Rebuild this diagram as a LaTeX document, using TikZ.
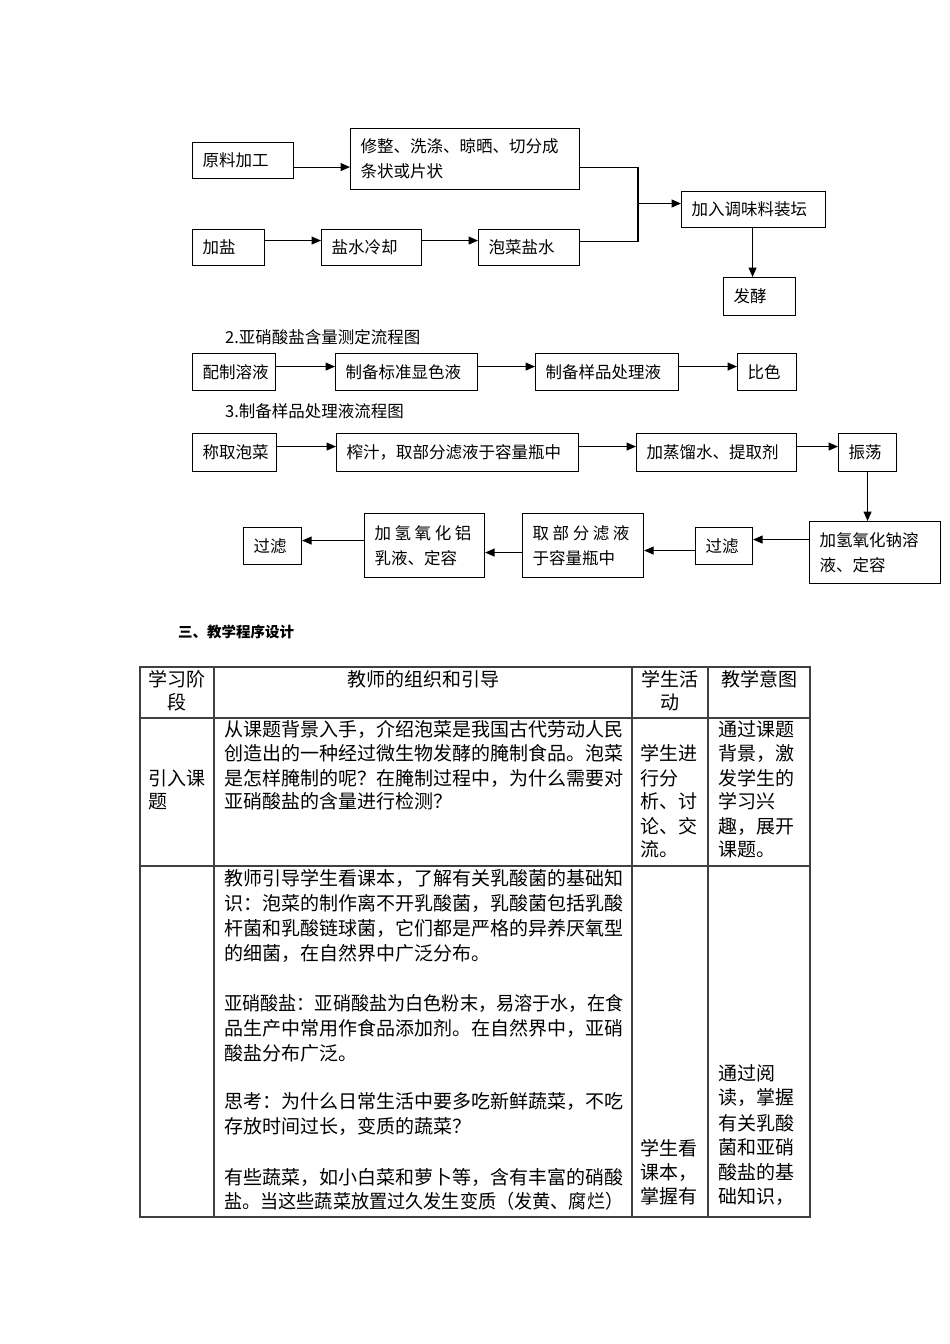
\documentclass[tikz,border=0pt]{standalone}
\usepackage{fontspec}
\setmainfont{Noto Sans CJK SC}
\usetikzlibrary{arrows.meta}
\newcommand\fcs{\fontsize{16.5}{25}\selectfont}
\newcommand\ftab{\fontsize{19}{25}\selectfont}
\newcounter{tlc}
\newcommand\tln[3]{\stepcounter{tlc}\edef\tlname{tl\arabic{tlc}}\node[tl] (\tlname) at (#1,#2) {#3};}
\newcommand\tlm[3]{\stepcounter{tlc}\edef\tlname{tl\arabic{tlc}}\node[tl,anchor=center] (\tlname) at (#1,#2) {#3};}
\newcommand\fbx[6]{\pgfmathsetmacro\tw{#4-20}\node[fb, minimum width=#4pt, minimum height=#5pt, text width=\tw pt] (#1) at (#2,#3) {#6};}
\newcommand\rarr[3]{\coordinate (tmp) at ([yshift=#3pt]#1.east); \draw[arr] (tmp) -- (tmp -| #2.west);}
\newcommand\larr[3]{\coordinate (tmp) at ([yshift=#3pt]#1.west); \draw[arr] (tmp) -- (tmp -| #2.east);}
\newcommand\cgap{\hspace{3.6pt}}
\begin{document}
\begin{tikzpicture}[x=1pt,y=-1pt,
  fb/.style={draw, line width=1.1pt, font=\fcs, inner xsep=10pt, inner ysep=0pt, anchor=north west, align=left},
  arr/.style={line width=1.1pt, -{Triangle[length=9.5pt,width=8pt]}},
  lnk/.style={line width=1.1pt},
  tl/.style={anchor=west, inner sep=0pt, font=\ftab, text height=0.88em, text depth=0.12em},
  ttl/.style={anchor=west, inner sep=0pt, font=\fcs},
  tab/.style={line width=1.2pt, draw=black!75}]
\fill[white] (0,0) rectangle (950,1344);
\useasboundingbox (0,0) rectangle (950,1344);
% ---- chart 1
\fbx{yuan}{192}{142}{101}{36}{原料加工}
\fbx{xiu}{350}{128}{229}{61}{修整、洗涤、晾晒、切分成\\条状或片状}
\fbx{jiayan}{192}{229}{72}{36}{加盐}
\fbx{yanshui}{321}{229}{100}{36}{盐水冷却}
\fbx{paocai}{478}{229}{101}{36}{泡菜盐水}
\fbx{tiao}{681}{191}{144}{36}{加入调味料装坛}
\fbx{fajiao}{723}{277}{72}{38}{发酵}
\rarr{yuan}{xiu}{-6.5}
\rarr{jiayan}{yanshui}{7}
\rarr{yanshui}{paocai}{7}
\coordinate (j1) at ([yshift=-8pt]xiu.east);
\coordinate (j2) at ([yshift=6.5pt]paocai.east);
\coordinate (jx) at (638,203.5);
\draw[lnk] (j1) -| (jx);
\draw[lnk] (j2) -| (jx);
\draw[arr] (jx) -- (jx -| tiao.west);
\coordinate (d1) at ([xshift=-1pt]tiao.south);
\draw[arr] (d1) -- (d1 |- fajiao.north);
% ---- chart 2
\node[ttl] (title2) at (225,337) {2.亚硝酸盐含量测定流程图};
\fbx{peizhi}{192}{353}{83}{37}{配制溶液}
\fbx{biaozhun}{335}{353}{142}{37}{制备标准显色液}
\fbx{yangpin}{535}{353}{143}{37}{制备样品处理液}
\fbx{bise}{737}{353}{59}{37}{比色}
\rarr{peizhi}{biaozhun}{5.5}
\rarr{biaozhun}{yangpin}{5.5}
\rarr{yangpin}{bise}{5.5}
% ---- chart 3
\node[ttl] (title3) at (225,411) {3.制备样品处理液流程图};
\fbx{chengqu}{192}{433}{84}{38}{称取泡菜}
\fbx{zhazhi}{336}{433}{242}{38}{榨汁，取部分滤液于容量瓶中}
\fbx{jiazheng}{636}{433}{160}{38}{加蒸馏水、提取剂}
\fbx{zhendang}{838}{433}{58}{38}{振荡}
\rarr{chengqu}{zhazhi}{6}
\rarr{zhazhi}{jiazheng}{6}
\rarr{jiazheng}{zhendang}{6}
\fbx{naoh}{809}{521}{131}{62}{加氢氧化钠溶\\液、定容}
\fbx{guolvA}{695}{527}{57}{37}{过滤}
\fbx{qubufen}{522}{513}{121}{64}{取\cgap 部\cgap 分\cgap 滤\cgap 液\\于容量瓶中}
\fbx{alum}{364}{513}{120}{64}{加\cgap 氢\cgap 氧\cgap 化\cgap 铝\\乳液、定容}
\fbx{guolvB}{243}{527}{58}{37}{过滤}
\draw[arr] (zhendang.south) -- (zhendang.south |- naoh.north);
\larr{naoh}{guolvA}{13}
\larr{guolvA}{qubufen}{-4.5}
\larr{qubufen}{alum}{-7}
\larr{alum}{guolvB}{5}
% ---- section heading
\node[anchor=west, inner sep=0pt, font=\fontsize{14.5}{16}\selectfont\bfseries] (sec3) at (178,632) {三、教学程序设计};
% ---- table
\draw[tab] (140,667) rectangle (810,1217);
\draw[tab] (214,667) -- (214,1217);
\draw[tab] (632,667) -- (632,1217);
\draw[tab] (708,667) -- (708,1217);
\draw[tab] (140,718) -- (810,718);
\draw[tab] (140,866) -- (810,866);
% header
\tlm{177}{682.5}{学习阶}
\tlm{177}{706}{段}
\tlm{423}{682.5}{教师的组织和引导}
\tlm{670}{682.5}{学生活}
\tlm{670}{706}{动}
\tlm{759}{682.5}{教学意图}
% row 1
\tln{148}{781.5}{引入课}
\tln{148}{805}{题}
\tln{224}{733}{从课题背景入手，介绍泡菜是我国古代劳动人民}
\tln{224}{756.7}{创造出的一种经过微生物发酵的腌制食品。泡菜}
\tln{224}{781.5}{是怎样腌制的呢？在腌制过程中，为什么需要对}
\tln{224}{805}{亚硝酸盐的含量进行检测？}
\tln{640}{756.7}{学生进}
\tln{640}{781.5}{行分}
\tln{640}{805}{析、讨}
\tln{640}{830}{论、交}
\tln{640}{853}{流。}
\tln{718}{733}{通过课题}
\tln{718}{756.7}{背景，激}
\tln{718}{781.5}{发学生的}
\tln{718}{805}{学习兴}
\tln{718}{830}{趣，展开}
\tln{718}{853}{课题。}
% row 2
\tln{224}{881.7}{教师引导学生看课本，了解有关乳酸菌的基础知}
\tln{224}{906.7}{识：泡菜的制作离不开乳酸菌，乳酸菌包括乳酸}
\tln{224}{931.7}{杆菌和乳酸链球菌，它们都是严格的异养厌氧型}
\tln{224}{956.7}{的细菌，在自然界中广泛分布。}
\tln{224}{1006.7}{\scalebox{0.955}[1]{亚硝酸盐：亚硝酸盐为白色粉末，易溶于水，在食}}
\tln{224}{1031.7}{品生产中常用作食品添加剂。在自然界中，亚硝}
\tln{224}{1056.7}{酸盐分布广泛。}
\tln{224}{1105}{思考：为什么日常生活中要多吃新鲜蔬菜，不吃}
\tln{224}{1130}{存放时间过长，变质的蔬菜？}
\tln{224}{1180.5}{有些蔬菜，如小白菜和萝卜等，含有丰富的硝酸}
\tln{224}{1205}{\scalebox{0.955}[1]{盐。当这些蔬菜放置过久发生变质（发黄、腐烂）}}
\tln{640}{1151.7}{学生看}
\tln{640}{1175.5}{课本，}
\tln{640}{1200}{掌握有}
\tln{718}{1076.7}{通过阅}
\tln{718}{1100.5}{读，掌握}
\tln{718}{1126.7}{有关乳酸}
\tln{718}{1150.5}{菌和亚硝}
\tln{718}{1175.5}{酸盐的基}
\tln{718}{1199.5}{础知识，}
\end{tikzpicture}
\end{document}
